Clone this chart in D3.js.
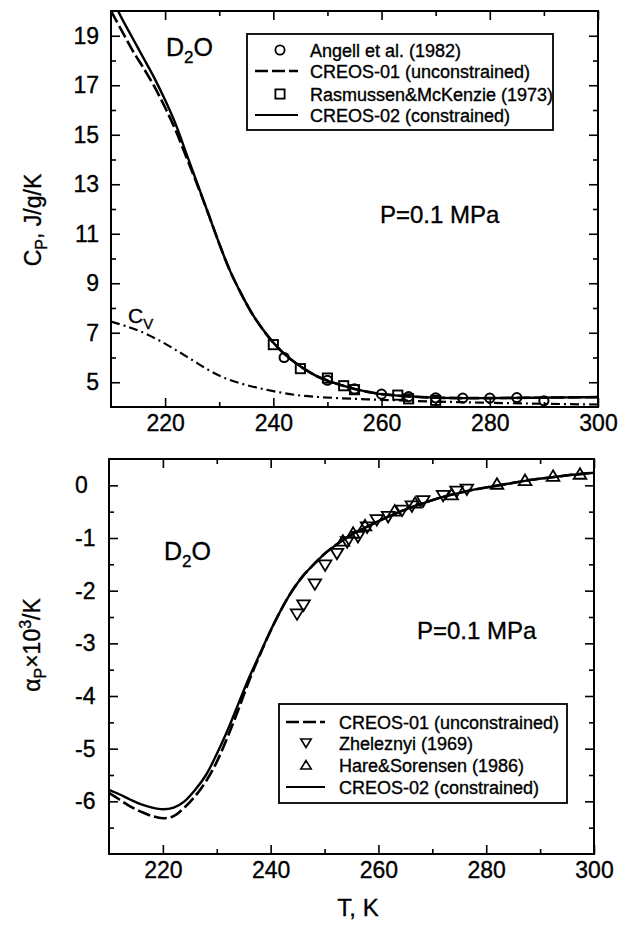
<!DOCTYPE html>
<html><head><meta charset="utf-8">
<script src="https://cdn.jsdelivr.net/npm/d3@7"></script>
<style>
body{margin:0;background:#fff}
text{font-family:Arial,"Liberation Sans",Helvetica,sans-serif;fill:#000;stroke:#000;stroke-width:0.35px}
</style>
</head><body>
<svg id="chart" width="621" height="937"></svg>
<script>
// ---------- tick labels ----------
const tempTicks = [220, 240, 260, 280, 300];
const tempMinor = [230, 250, 270, 290];
const cpTicks = [5, 7, 9, 11, 13, 15, 17, 19];
const cpMinor = [6, 8, 10, 12, 14, 16, 18];
const alphaTicks = [0, -1, -2, -3, -4, -5, -6];
const alphaMinor = [-0.5, -1.5, -2.5, -3.5, -4.5, -5.5, -6.5];

// ---------- top panel: heat capacity (T [K], J/g/K) ----------
const cpCreos02 = [[210,20.6],[212,19.7],[214,18.9],[216,18.1],[218,17.3],[220,16.4],[222,15.4],[224,14.2],[226,13.0],[228,11.8],[230,10.6],[232,9.5],[234,8.6],[236,7.8],[238,7.15],[240,6.6],[242,6.15],[244,5.8],[246,5.5],[248,5.25],[250,5.07],[252,4.92],[254,4.79],[256,4.68],[258,4.59],[260,4.52],[265,4.43],[270,4.38],[275,4.36],[280,4.36],[285,4.37],[290,4.38],[295,4.39],[300,4.40]];
const cpCreos01 = [[210,20.0],[212,19.2],[214,18.4],[216,17.7],[218,16.95],[220,16.1],[222,15.15],[224,14.05],[226,12.95],[228,11.8],[230,10.6],[232,9.5],[234,8.6],[236,7.8],[238,7.15],[240,6.6],[242,6.15],[244,5.8],[246,5.5],[248,5.25],[250,5.07],[252,4.92],[254,4.79],[256,4.68],[258,4.59],[260,4.52],[265,4.43],[270,4.38],[275,4.36],[280,4.36],[285,4.37],[290,4.38],[295,4.39],[300,4.40]];
const cvCurve = [[210,7.45],[213,7.25],[216,7.0],[219,6.68],[222,6.3],[225,5.9],[228,5.5],[231,5.17],[234,4.95],[237,4.78],[240,4.64],[244,4.49],[248,4.41],[252,4.36],[256,4.32],[260,4.29],[270,4.22],[280,4.17],[290,4.13],[300,4.1]];
const angell = [[242,6.0],[250,5.08],[255,4.73],[260,4.52],[265,4.42],[270,4.37],[275,4.36],[280,4.36],[285,4.38],[290,4.25]];
const rasmussen = [[240,6.52],[245,5.55],[250,5.17],[253,4.86],[255,4.70],[263,4.48],[265,4.33],[270,4.27]];

// ---------- bottom panel: expansivity (T [K], 1e3/K) ----------
const apCreos02 = [[210,-5.78],[212,-5.87],[214,-5.97],[216,-6.06],[218,-6.12],[220,-6.15],[222,-6.12],[224,-6.0],[226,-5.78],[228,-5.5],[230,-5.1],[232,-4.65],[234,-4.15],[236,-3.65],[238,-3.2],[240,-2.75],[242,-2.35],[244,-2.0],[246,-1.72],[248,-1.5],[250,-1.3],[252,-1.14],[254,-1.0],[256,-0.88],[258,-0.78],[260,-0.68],[264,-0.5],[268,-0.35],[272,-0.22],[276,-0.12],[280,-0.04],[284,0.03],[288,0.1],[292,0.15],[296,0.2],[300,0.24]];
const apCreos01 = [[210,-5.84],[212,-5.97],[214,-6.1],[216,-6.2],[218,-6.28],[220,-6.32],[222,-6.28],[224,-6.12],[226,-5.9],[228,-5.62],[230,-5.25],[232,-4.78],[234,-4.26],[236,-3.71],[238,-3.22],[240,-2.76],[242,-2.35],[244,-2.0],[246,-1.72],[248,-1.5],[250,-1.3],[252,-1.14],[254,-1.0],[256,-0.88],[258,-0.78],[260,-0.68],[264,-0.5],[268,-0.35],[272,-0.22],[276,-0.12],[280,-0.04],[284,0.03],[288,0.1],[292,0.15],[296,0.2],[300,0.24]];
const zheleznyi = [[244.9,-2.45],[246.1,-2.28],[248.2,-1.88],[250.1,-1.52],[252.3,-1.30],[254.2,-1.08],[256.2,-0.98],[257.9,-0.80],[259.7,-0.66],[261.8,-0.60],[264.4,-0.48],[266.2,-0.40],[268.3,-0.30],[272.0,-0.20],[274.5,-0.12],[276.4,-0.08]];
const hareSorensen = [[253.4,-1.05],[255.3,-0.90],[257.5,-0.76],[263.0,-0.48],[266.8,-0.33],[273.6,-0.17],[282.0,0.03],[287.2,0.10],[292.4,0.18],[297.4,0.22]];

const topLegend = ["Angell et al. (1982)", "CREOS-01 (unconstrained)", "Rasmussen&McKenzie (1973)", "CREOS-02 (constrained)"];
const botLegend = ["CREOS-01 (unconstrained)", "Zheleznyi (1969)", "Hare&Sorensen (1986)", "CREOS-02 (constrained)"];

const svg = d3.select("#chart");
svg.append("rect").attr("width",621).attr("height",937).attr("fill","#fff");

const x1 = d3.scaleLinear().domain([210,300]).range([111,598]);
const y1 = d3.scaleLinear().domain([4,20]).range([407,11]);
const x2 = d3.scaleLinear().domain([210,300]).range([109,594]);
const y2 = d3.scaleLinear().domain([-7,0.5]).range([854,459]);

const FS = 23;
const plain = d => String(d);

function frame(x, y, id) {
  const [xa, xb] = x.range(); const [yb, ya] = y.range();
  const g = svg.append("g");
  svg.append("clipPath").attr("id", id).append("rect")
    .attr("x", xa).attr("y", ya).attr("width", xb - xa).attr("height", yb - ya);
  const gb = g.append("g").attr("transform", `translate(0,${yb})`)
    .call(d3.axisBottom(x).tickValues(tempTicks).tickSize(-9).tickPadding(8).tickFormat(plain));
  gb.selectAll("text").attr("font-size", FS).attr("font-family", null);
  g.append("g").attr("transform", `translate(0,${yb})`)
    .call(d3.axisBottom(x).tickValues(tempMinor).tickSize(-5).tickFormat(""));
  g.append("g").attr("transform", `translate(0,${ya})`)
    .call(d3.axisTop(x).tickValues(tempTicks).tickSize(-9).tickFormat(""));
  g.append("g").attr("transform", `translate(0,${ya})`)
    .call(d3.axisTop(x).tickValues(tempMinor).tickSize(-5).tickFormat(""));
  g.selectAll(".domain").remove();
  g.selectAll("line").attr("stroke", "#000").attr("stroke-width", 1.6);
  g.append("rect").attr("x", xa).attr("y", ya).attr("width", xb - xa).attr("height", yb - ya)
    .attr("fill", "none").attr("stroke", "#000").attr("stroke-width", 2);
  return g;
}

function yAxes(g, x, y, major, minor, labelX, anchor) {
  const [xa, xb] = x.range();
  const gl = g.append("g").attr("transform", `translate(${xa},0)`)
    .call(d3.axisLeft(y).tickValues(major).tickSize(-9).tickPadding(12).tickFormat(plain));
  gl.selectAll("text").attr("font-size", FS).attr("font-family", null)
    .attr("text-anchor", anchor).attr("x", labelX - xa);
  g.append("g").attr("transform", `translate(${xa},0)`)
    .call(d3.axisLeft(y).tickValues(minor).tickSize(-5).tickFormat(""));
  g.append("g").attr("transform", `translate(${xb},0)`)
    .call(d3.axisRight(y).tickValues(major).tickSize(-9).tickFormat(""));
  g.append("g").attr("transform", `translate(${xb},0)`)
    .call(d3.axisRight(y).tickValues(minor).tickSize(-5).tickFormat(""));
  g.selectAll(".domain").remove();
  g.selectAll("line").attr("stroke", "#000").attr("stroke-width", 1.6);
}

// ---------- TOP PANEL ----------
const gTop = frame(x1, y1, "clipTop");
yAxes(gTop, x1, y1, cpTicks, cpMinor, 99, "end");

const line1 = d3.line().x(d => x1(d[0])).y(d => y1(d[1])).curve(d3.curveCatmullRom);
const pTop = svg.append("g").attr("clip-path", "url(#clipTop)");
pTop.append("path").datum(cvCurve).attr("d", line1).attr("fill","none").attr("stroke","#000")
  .attr("stroke-width",2.2).attr("stroke-dasharray","9,4,2,4");
pTop.append("path").datum(cpCreos01).attr("d", line1).attr("fill","none").attr("stroke","#000")
  .attr("stroke-width",2.6).attr("stroke-dasharray","13,4");
pTop.append("path").datum(cpCreos02).attr("d", line1).attr("fill","none").attr("stroke","#000")
  .attr("stroke-width",2.4);
pTop.selectAll(".circ").data(angell).join("circle").attr("cx", d => x1(d[0])).attr("cy", d => y1(d[1]))
  .attr("r", 4.6).attr("fill","none").attr("stroke","#000").attr("stroke-width",2);
pTop.selectAll(".sq").data(rasmussen).join("rect").attr("x", d => x1(d[0]) - 4.6).attr("y", d => y1(d[1]) - 4.6)
  .attr("width", 9.2).attr("height", 9.2).attr("fill","none").attr("stroke","#000").attr("stroke-width",1.9);

const d2oTop = svg.append("text").attr("x",166).attr("y",56).attr("font-size",25);
d2oTop.append("tspan").text("D");
d2oTop.append("tspan").attr("font-size",17).attr("dy",7).text("2");
d2oTop.append("tspan").attr("dy",-7).text("O");
svg.append("text").attr("x",380).attr("y",223).attr("font-size",24).text("P=0.1 MPa");
const cv = svg.append("text").attr("x",128).attr("y",323).attr("font-size",21);
cv.append("tspan").text("C");
cv.append("tspan").attr("font-size",15).attr("dy",6).text("V");

const ylab1 = svg.append("text").attr("transform","translate(41,220) rotate(-90)")
  .attr("text-anchor","middle").attr("font-size",23);
ylab1.append("tspan").text("C");
ylab1.append("tspan").attr("font-size",16).attr("dy",6).text("P");
ylab1.append("tspan").attr("dy",-6).text(", J/g/K");

const lg1 = svg.append("g");
lg1.append("rect").attr("x",247).attr("y",34).attr("width",306).attr("height",96)
  .attr("fill","#fff").attr("stroke","#000").attr("stroke-width",1.8);
const rowsTop = [50, 71, 94, 115];
topLegend.forEach((t, i) => {
  lg1.append("text").attr("x",310).attr("y",rowsTop[i] + 6.5).attr("font-size",18).text(t);
});
lg1.append("circle").attr("cx",280).attr("cy",rowsTop[0]).attr("r",4.6).attr("fill","none").attr("stroke","#000").attr("stroke-width",1.8);
lg1.append("line").attr("x1",255).attr("x2",298).attr("y1",rowsTop[1]).attr("y2",rowsTop[1])
  .attr("stroke","#000").attr("stroke-width",2.6).attr("stroke-dasharray","13,4");
lg1.append("rect").attr("x",275.4).attr("y",rowsTop[2]-4.6).attr("width",9.2).attr("height",9.2).attr("fill","none").attr("stroke","#000").attr("stroke-width",1.8);
lg1.append("line").attr("x1",255).attr("x2",298).attr("y1",rowsTop[3]).attr("y2",rowsTop[3])
  .attr("stroke","#000").attr("stroke-width",2.2);

// ---------- BOTTOM PANEL ----------
const gBot = frame(x2, y2, "clipBot");
yAxes(gBot, x2, y2, alphaTicks, alphaMinor, 75, "start");

const line2 = d3.line().x(d => x2(d[0])).y(d => y2(d[1])).curve(d3.curveCatmullRom);
const pBot = svg.append("g").attr("clip-path", "url(#clipBot)");
pBot.append("path").datum(apCreos01).attr("d", line2).attr("fill","none").attr("stroke","#000")
  .attr("stroke-width",2.6).attr("stroke-dasharray","13,4");
pBot.append("path").datum(apCreos02).attr("d", line2).attr("fill","none").attr("stroke","#000")
  .attr("stroke-width",2.4);
const triDown = "M0,5.5L-6.3,-5L6.3,-5Z";
const triUp = "M0,-5.5L-6.3,5L6.3,5Z";
pBot.selectAll(".td").data(zheleznyi).join("path").attr("d", triDown)
  .attr("transform", d => `translate(${x2(d[0])},${y2(d[1])})`)
  .attr("fill","none").attr("stroke","#000").attr("stroke-width",1.8);
pBot.selectAll(".tu").data(hareSorensen).join("path").attr("d", triUp)
  .attr("transform", d => `translate(${x2(d[0])},${y2(d[1])})`)
  .attr("fill","none").attr("stroke","#000").attr("stroke-width",1.8);

const d2oBot = svg.append("text").attr("x",164).attr("y",560).attr("font-size",25);
d2oBot.append("tspan").text("D");
d2oBot.append("tspan").attr("font-size",17).attr("dy",7).text("2");
d2oBot.append("tspan").attr("dy",-7).text("O");
svg.append("text").attr("x",417).attr("y",639).attr("font-size",24).text("P=0.1 MPa");

const ylab2 = svg.append("text").attr("transform","translate(40,645) rotate(-90)")
  .attr("text-anchor","middle").attr("font-size",23);
ylab2.append("tspan").text("α");
ylab2.append("tspan").attr("font-size",16).attr("dy",6).text("P");
ylab2.append("tspan").attr("dy",-6).text("×10");
ylab2.append("tspan").attr("font-size",16).attr("dy",-9).text("3");
ylab2.append("tspan").attr("dy",9).text("/K");

svg.append("text").attr("x",358).attr("y",916).attr("text-anchor","middle").attr("font-size",24).text("T, K");

const lg2 = svg.append("g");
lg2.append("rect").attr("x",279).attr("y",704).attr("width",288).attr("height",99)
  .attr("fill","#fff").attr("stroke","#000").attr("stroke-width",1.8);
const rowsBot = [722, 743, 765, 787];
botLegend.forEach((t, i) => {
  lg2.append("text").attr("x",339).attr("y",rowsBot[i] + 6.5).attr("font-size",18).text(t);
});
lg2.append("line").attr("x1",286).attr("x2",325).attr("y1",rowsBot[0]).attr("y2",rowsBot[0])
  .attr("stroke","#000").attr("stroke-width",2.6).attr("stroke-dasharray","13,4");
lg2.append("path").attr("d", "M0,4.5L-5.2,-4L5.2,-4Z").attr("transform",`translate(306,${rowsBot[1]})`)
  .attr("fill","none").attr("stroke","#000").attr("stroke-width",1.6);
lg2.append("path").attr("d", "M0,-4.5L-5.2,4L5.2,4Z").attr("transform",`translate(306,${rowsBot[2]})`)
  .attr("fill","none").attr("stroke","#000").attr("stroke-width",1.6);
lg2.append("line").attr("x1",286).attr("x2",325).attr("y1",rowsBot[3]).attr("y2",rowsBot[3])
  .attr("stroke","#000").attr("stroke-width",2.2);
</script>
</body></html>
